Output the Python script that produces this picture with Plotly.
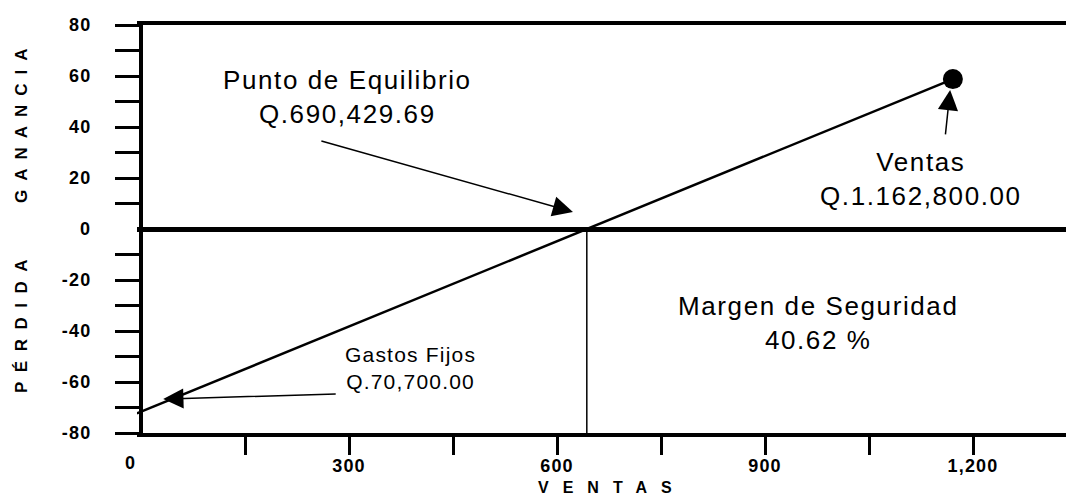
import plotly.graph_objects as go

# ---------------- data ----------------
line_x = [-6, 643, 1171]          # ventas (miles)
line_y = [-72.3, 0, 58.8]         # ganancia / pérdida
equilibrio_x = [643, 643]
equilibrio_y = [0, -80]
ventas_x = [1171]
ventas_y = [58.8]

y_tick_vals = [-80, -70, -60, -50, -40, -30, -20, -10, 10, 20, 30, 40, 50, 60, 70, 80]
y_tick_text = ["-80", "", "-60", "", "-40", "", "-20", "", "", "20", "", "40", "", "60", "", "80"]
x_tick_vals = [150, 300, 450, 600, 750, 900, 1050, 1200]
x_tick_text = ["", "300", "", "600", "", "900", "", "1,200"]
zero_label = "0"

txt_equilibrio = ["Punto de Equilibrio", "Q.690,429.69"]
txt_ventas = ["Ventas", "Q.1.162,800.00"]
txt_margen = ["Margen de Seguridad", "40.62 %"]
txt_gastos = ["Gastos Fijos", "Q.70,700.00"]

# arrows: (tip_x, tip_y, tail_x, tail_y) in data units
arrow_equilibrio = [623, 6.7, 258, 34.7]
arrow_ventas = [1167, 54.5, 1160, 36.5]
arrow_gastos = [32, -66.7, 283, -64.7]

# ---------------- layout geometry ----------------
W, H = 1066, 497
ML, MR, MT, MB = 137, 0, 25, 64
PW, PH = W - ML - MR, H - MT - MB
PX_PER_UNIT = 208 / 300
x0 = -(141 - ML) / PX_PER_UNIT
x1 = x0 + PW / PX_PER_UNIT

FONT = "Liberation Sans, Arial, sans-serif"
TICK_SP = 1.2


def px2paper(px, py):
    return (px - ML) / PW, 1 - (py - MT) / PH


def spaced(s, sp):
    if not s:
        return s
    return f"<span style='letter-spacing:{sp}px'>{s}</span>"


fig = go.Figure()
fig.add_trace(go.Scatter(x=line_x, y=line_y, mode="lines",
                         line=dict(color="black", width=2.5), hoverinfo="skip"))
fig.add_trace(go.Scatter(x=equilibrio_x, y=equilibrio_y, mode="lines",
                         line=dict(color="black", width=1.5), hoverinfo="skip"))
fig.add_trace(go.Scatter(x=ventas_x, y=ventas_y, mode="markers",
                         marker=dict(color="black", size=20), hoverinfo="skip",
                         cliponaxis=False))

annotations = []

# arrows
for tipx, tipy, tailx, taily in [arrow_equilibrio, arrow_ventas, arrow_gastos]:
    annotations.append(dict(x=tipx, y=tipy, ax=tailx, ay=taily, xref="x", yref="y",
                            axref="x", ayref="y", text="", showarrow=True,
                            arrowhead=2, arrowwidth=1.5, arrowsize=2.7,
                            arrowcolor="black"))


# text blocks
def text_block(lines, cx, cy, size, sp):
    x, y = px2paper(cx, cy)
    annotations.append(dict(x=x, y=y, xref="paper", yref="paper", showarrow=False,
                            text="<br>".join(spaced(l, sp) for l in lines),
                            font=dict(family=FONT, size=size, color="black"),
                            align="center", xanchor="center", yanchor="middle"))


text_block(txt_equilibrio, 347, 97, 26, 1.6)
text_block(txt_ventas, 921, 179, 26, 1.6)
text_block(txt_margen, 818, 323, 26, 1.6)
text_block(txt_gastos, 410, 368, 21, 1.2)

# axis titles
for label, cx, cy, rot, size, sp in [("GANANCIA", 21, 121, -90, 17, 9),
                                     ("PÉRDIDA", 21, 322, -90, 17, 9.5),
                                     ("VENTAS", 612, 487, 0, 16, 14)]:
    x, y = px2paper(cx, cy)
    annotations.append(dict(x=x, y=y, xref="paper", yref="paper", showarrow=False,
                            text=spaced(label, sp), textangle=rot,
                            font=dict(family=FONT, size=size, color="black", weight="bold"),
                            xanchor="center", yanchor="middle"))

# zero tick labels (no tick mark at zero in the reference)
x, y = px2paper(93, 229)
annotations.append(dict(x=x, y=0, xref="paper", yref="y", showarrow=False,
                        text=spaced(zero_label, TICK_SP),
                        font=dict(family=FONT, size=18, color="black", weight="bold"),
                        xanchor="right", yanchor="middle"))
x, y = px2paper(130, 463)
annotations.append(dict(x=x, y=y, xref="paper", yref="paper", showarrow=False,
                        text=spaced(zero_label, TICK_SP),
                        font=dict(family=FONT, size=18, color="black", weight="bold"),
                        xanchor="center", yanchor="middle"))

fig.update_layout(
    width=W, height=H,
    margin=dict(l=ML, r=MR, t=MT, b=MB, pad=0),
    paper_bgcolor="white", plot_bgcolor="white",
    showlegend=False,
    annotations=annotations,
    xaxis=dict(range=[x0, x1], tickvals=x_tick_vals,
               ticktext=[spaced(t, TICK_SP) for t in x_tick_text],
               ticks="outside", ticklen=18, tickwidth=3, tickcolor="black",
               showline=True, linewidth=4, linecolor="black", mirror=True,
               showgrid=False, zeroline=False, ticklabelstandoff=-5,
               tickfont=dict(family=FONT, size=18, color="black", weight="bold")),
    yaxis=dict(range=[-80, 80], tickvals=y_tick_vals,
               ticktext=[spaced(t, TICK_SP) for t in y_tick_text],
               anchor="free", position=(141 - ML) / PW,
               ticks="outside", ticklen=24, tickwidth=3, tickcolor="black",
               showline=True, linewidth=4, linecolor="black",
               showgrid=False, zeroline=True, zerolinewidth=5, zerolinecolor="black",
               ticklabelstandoff=20,
               tickfont=dict(family=FONT, size=18, color="black", weight="bold")),
)

fig.write_html("out.html", config={"displayModeBar": False},
               post_script="document.body.style.margin='0px';document.body.style.overflow='hidden';")
